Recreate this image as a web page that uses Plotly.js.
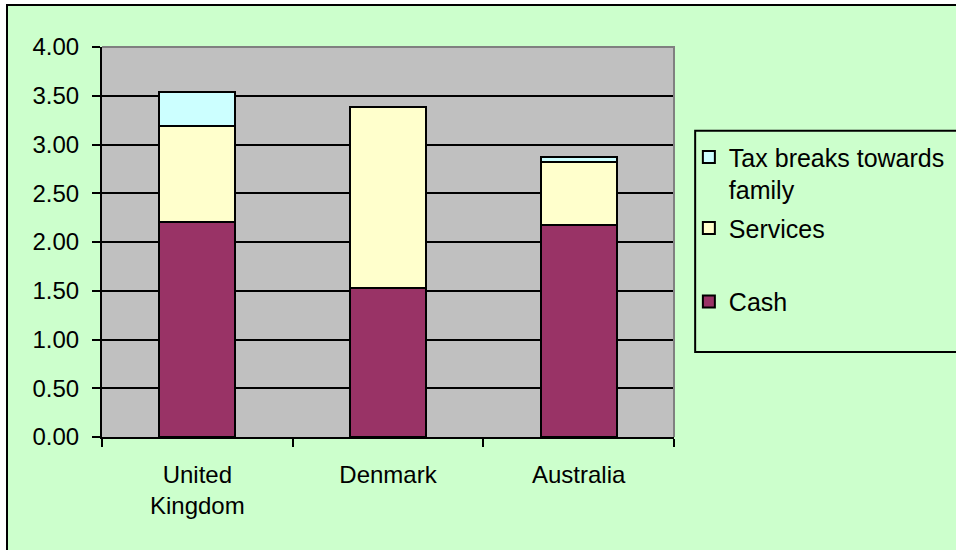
<!DOCTYPE html>
<html>
<head>
<meta charset="utf-8">
<script src="https://cdn.plot.ly/plotly-3.0.1.min.js"></script>
<style>
  html, body { margin: 0; padding: 0; background: #ffffff; }
  #frame {
    position: absolute; left: 6px; top: 4px;
    border-left: 2px solid #000; border-top: 2px solid #000;
    width: 948px; height: 544px; overflow: hidden;
  }
  #chart { width: 1000px; height: 544px; }
</style>
</head>
<body>
<div id="frame"><div id="chart"></div></div>
<script>
// Family benefit spending by type, per country
const countries = ["United<br>Kingdom", "Denmark", "Australia"];
const cash       = [2.21, 1.53, 2.17];
const services   = [0.98, 1.85, 0.65];
const taxBreaks  = [0.35, 0.00, 0.05];
const yTicks     = [0, 0.5, 1, 1.5, 2, 2.5, 3, 3.5, 4];

const FONT = "Arial, 'Liberation Sans', sans-serif";
const outline = { color: "#000000", width: 2 };

const traces = [
  { type: "bar", name: "Cash", x: countries, y: cash,
    marker: { color: "#993366", line: outline }, legend: "legend3" },
  { type: "bar", name: "Services", x: countries, y: services,
    marker: { color: "#FFFFCC", line: outline }, legend: "legend2" },
  { type: "bar", name: "Tax breaks towards<br>family", x: countries, y: taxBreaks,
    marker: { color: "#CCFFFF", line: outline }, legend: "legend" }
];

const legendBase = {
  x: 1.026, xanchor: "left", yanchor: "top",
  bgcolor: "rgba(0,0,0,0)", borderwidth: 0,
  font: { family: FONT, size: 25, color: "#000" },
  valign: "top"
};

const layout = {
  width: 1000, height: 544,
  margin: { l: 94, r: 334, t: 41, b: 113, pad: 0 },
  paper_bgcolor: "#CCFFCC",
  plot_bgcolor: "#C0C0C0",
  barmode: "stack",
  bargap: 0.6,
  showlegend: true,
  font: { family: FONT, size: 24, color: "#000" },
  xaxis: {
    type: "category",
    showline: true, linecolor: "#000", linewidth: 2,
    ticks: "outside", tickson: "boundaries", ticklen: 8, tickwidth: 2, tickcolor: "#000",
    ticklabelstandoff: 15,
    showgrid: false,
    tickfont: { family: FONT, size: 24, color: "#000" }
  },
  yaxis: {
    range: [0, 4], tickvals: yTicks, tickformat: ".2f",
    showline: true, linecolor: "#000", linewidth: 2,
    ticks: "outside", ticklen: 8, tickwidth: 2, tickcolor: "#000",
    ticklabelstandoff: 8,
    showgrid: true, gridcolor: "#000", gridwidth: 2,
    zeroline: false,
    tickfont: { family: FONT, size: 24, color: "#000" }
  },
  legend:  Object.assign({}, legendBase, { y: 0.776 }),
  legend2: Object.assign({}, legendBase, { y: 0.594 }),
  legend3: Object.assign({}, legendBase, { y: 0.406 }),
  shapes: [
    // plot area frame on the top and right sides
    { type: "path", xref: "paper", yref: "paper",
      path: "M 0,1 L 1,1 L 1,0", line: { color: "#808080", width: 2 }, layer: "above" },
    // legend box
    { type: "rect", xref: "paper", yref: "paper",
      x0: 1.037, x1: 1.6, y0: 0.218, y1: 0.785,
      line: { color: "#000", width: 2 }, fillcolor: "rgba(0,0,0,0)", layer: "above" }
  ]
};

Plotly.newPlot("chart", traces, layout, { displayModeBar: false, staticPlot: true });
</script>
</body>
</html>
